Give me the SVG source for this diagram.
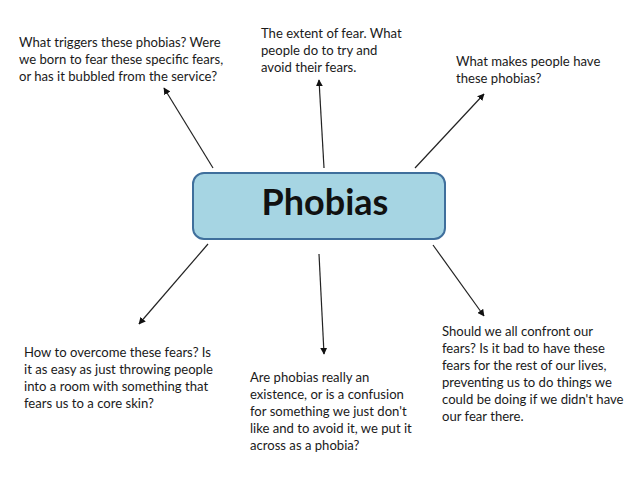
<svg xmlns="http://www.w3.org/2000/svg" width="638" height="479" viewBox="0 0 638 479">
<defs>
<style>
.t{font-family:Lato,"Open Sans","Liberation Sans",sans-serif;font-size:13.1px;fill:#1a1a1a}
.c{stroke:#222;stroke-width:1.2;fill:none;marker-end:url(#ah)}
</style>
<marker id="ah" viewBox="0 0 10 10" refX="9" refY="5" markerWidth="7" markerHeight="7" orient="auto" markerUnits="userSpaceOnUse">
<path d="M0,0 L10,5 L0,10 z" fill="#111"/>
</marker>
</defs>
<rect width="638" height="479" fill="#fff"/>
<g id="connectors">
<line class="c" x1="213" y1="168" x2="164" y2="88"/>
<line class="c" x1="324" y1="168" x2="319" y2="80"/>
<line class="c" x1="415" y1="168" x2="484" y2="94"/>
<line class="c" x1="208" y1="244" x2="139" y2="324"/>
<line class="c" x1="319" y1="254" x2="324" y2="354"/>
<line class="c" x1="433" y1="245" x2="484" y2="316"/>
</g>
<g id="phobias">
<rect x="193" y="173" width="252" height="66" rx="11" fill="#a6d5e3" stroke="#3f6f9c" stroke-width="2"/>
<text x="325" y="215" text-anchor="middle" style="font-family:Lato,'Open Sans','Liberation Sans',sans-serif;font-weight:bold;font-size:36px;fill:#111">Phobias</text>
</g>
<g id="q-triggers">
<text class="t" x="19" y="47">What triggers these phobias? Were</text>
<text class="t" x="19" y="64">we born to fear these specific fears,</text>
<text class="t" x="19" y="81">or has it bubbled from the service?</text>
</g>
<g id="q-extent">
<text class="t" x="261" y="38">The extent of fear. What</text>
<text class="t" x="261" y="55">people do to try and</text>
<text class="t" x="261" y="72">avoid their fears.</text>
</g>
<g id="q-makes">
<text class="t" x="456" y="66">What makes people have</text>
<text class="t" x="456" y="83">these phobias?</text>
</g>
<g id="q-overcome">
<text class="t" x="24" y="357">How to overcome these fears? Is</text>
<text class="t" x="24" y="374">it as easy as just throwing people</text>
<text class="t" x="24" y="391">into a room with something that</text>
<text class="t" x="24" y="408">fears us to a core skin?</text>
</g>
<g id="q-real">
<text class="t" x="250" y="382">Are phobias really an</text>
<text class="t" x="250" y="399">existence, or is a confusion</text>
<text class="t" x="250" y="416">for something we just don't</text>
<text class="t" x="250" y="433">like and to avoid it, we put it</text>
<text class="t" x="250" y="450">across as a phobia?</text>
</g>
<g id="q-confront">
<text class="t" x="442" y="336">Should we all confront our</text>
<text class="t" x="442" y="353">fears? Is it bad to have these</text>
<text class="t" x="442" y="370">fears for the rest of our lives,</text>
<text class="t" x="442" y="387">preventing us to do things we</text>
<text class="t" x="442" y="404">could be doing if we didn't have</text>
<text class="t" x="442" y="421">our fear there.</text>
</g>
</svg>
